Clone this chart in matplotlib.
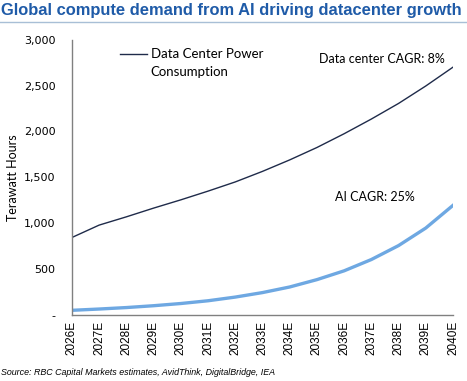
import matplotlib
matplotlib.use("Agg")
import matplotlib.pyplot as plt
from matplotlib.lines import Line2D
from matplotlib.ticker import FuncFormatter

# Data (terawatt hours)
years = ["2026E", "2027E", "2028E", "2029E", "2030E", "2031E", "2032E", "2033E",
         "2034E", "2035E", "2036E", "2037E", "2038E", "2039E", "2040E"]
datacenter_twh = [845, 980, 1070, 1165, 1255, 1350, 1450, 1565, 1690, 1825,
                  1975, 2135, 2305, 2495, 2700]
ai_twh = [52, 66, 82, 102, 126, 156, 196, 245, 306, 386, 482, 605, 757, 948, 1195]

yticks = [0, 500, 1000, 1500, 2000, 2500, 3000]

TITLE_BLUE = "#1F5BA8"
NAVY = "#1F2B4A"
LIGHT_BLUE = "#6EA8E2"
AXIS_GRAY = "#808080"

fig = plt.figure(figsize=(4.67, 3.81), dpi=100)
ax = fig.add_axes([0.154, 0.173, 0.816, 0.723])

x = range(len(years))
ax.plot(x, datacenter_twh, color=NAVY, linewidth=1.0)
ax.plot(x, ai_twh, color=LIGHT_BLUE, linewidth=2.4)

ax.set_xlim(0, len(years) - 1)
ax.set_ylim(0, 3000)
ax.set_xticks(list(x))
ax.set_xticklabels(years, rotation=90, fontsize=8.5, family="Liberation Sans")
ax.set_yticks(yticks)
ax.yaxis.set_major_formatter(FuncFormatter(lambda v, p: "-" if v == 0 else f"{v:,.0f}"))
for lbl in ax.get_yticklabels():
    lbl.set_fontsize(8)
    lbl.set_family("DejaVu Sans")
ax.tick_params(axis="x", length=0, pad=4, colors="black")
ax.tick_params(axis="y", length=0, pad=12, colors="black")

for side in ["top", "right"]:
    ax.spines[side].set_visible(False)
for side in ["left", "bottom"]:
    ax.spines[side].set_color(AXIS_GRAY)
    ax.spines[side].set_linewidth(1.0)

ax.set_ylabel("Terawatt Hours", fontsize=9, family="Lato")
ax.yaxis.set_label_coords(-0.139, 0.5)

# Legend drawn by hand so the key sits on the first text line, as in Excel
ax.add_line(Line2D([0.126, 0.197], [0.947, 0.947], color=NAVY, linewidth=1.0,
                   transform=ax.transAxes))
ax.text(0.207, 0.947, "Data Center Power", transform=ax.transAxes,
        ha="left", va="center", fontsize=9.5, family="Lato")
ax.text(0.207, 0.882, "Consumption", transform=ax.transAxes,
        ha="left", va="center", fontsize=9.5, family="Lato")

ax.text(len(years) - 1.3, datacenter_twh[-1] + 90, "Data center CAGR: 8%",
        ha="right", va="center", fontsize=9, family="Lato")
ax.text(len(years) - 2.4, ai_twh[-1] + 90, "AI CAGR: 25%",
        ha="right", va="center", fontsize=9, family="Lato")

# Title, rule underneath, and source note
fig.text(0.003, 0.972, "Global compute demand from AI driving datacenter growth",
         ha="left", va="center", fontsize=11.85, fontweight="bold",
         color=TITLE_BLUE, family="Liberation Sans")
fig.add_artist(Line2D([0, 1], [0.942, 0.942], color="#A8BFD6", linewidth=1.0,
                      transform=fig.transFigure))
fig.text(0.003, 0.022, "Source: RBC Capital Markets estimates, AvidThink, DigitalBridge, IEA",
         ha="left", va="center", fontsize=6.4, style="italic", family="Liberation Sans")

fig.savefig("out.png", dpi=100)
